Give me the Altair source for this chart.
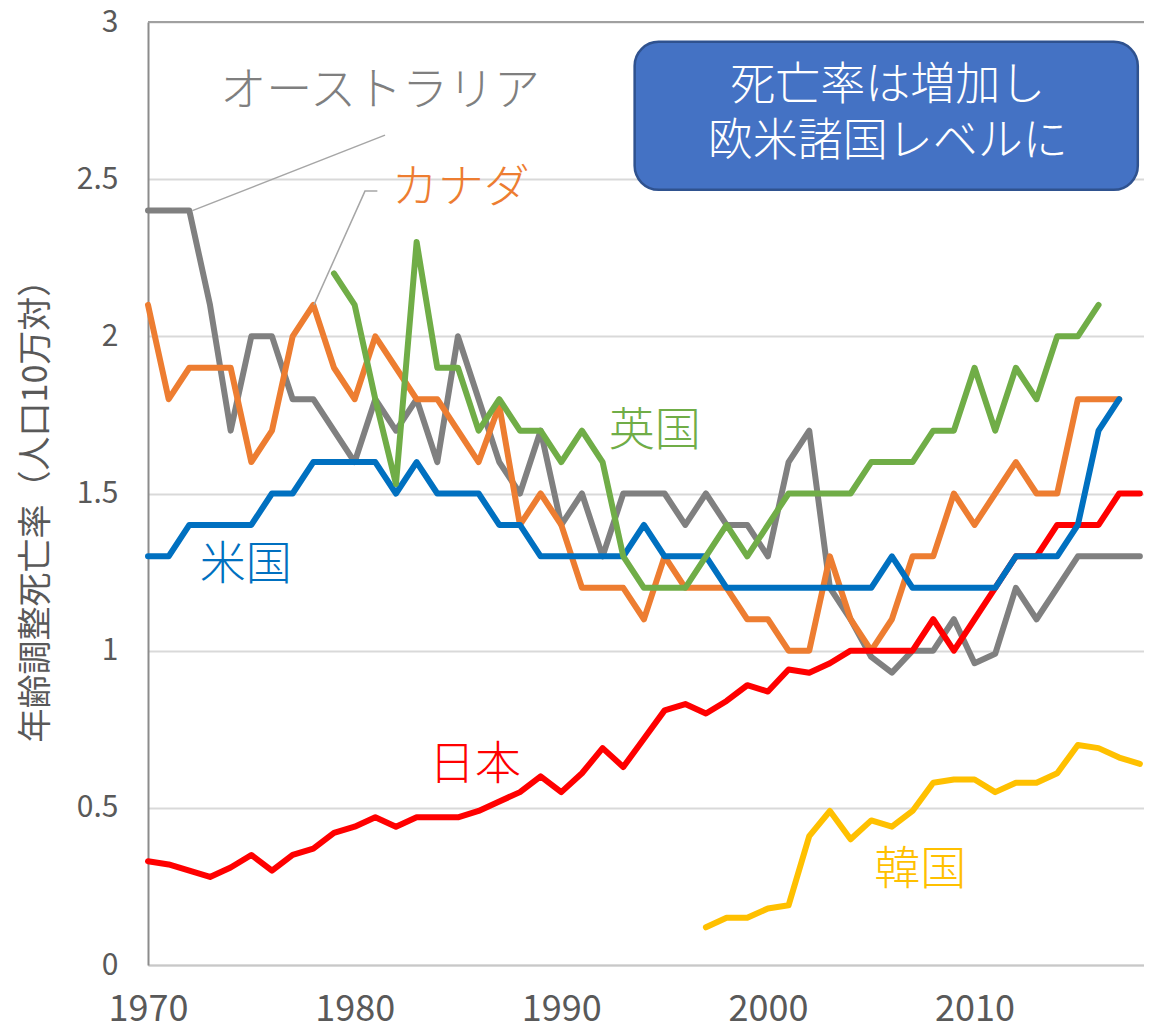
import altair as alt
import pandas as pd

FONT = "Noto Sans CJK JP"

# ---- data ----
australia_start = 1970
australia = [2.4, 2.4, 2.4, 2.1, 1.7, 2.0, 2.0, 1.8, 1.8, 1.7,
             1.6, 1.8, 1.7, 1.8, 1.6, 2.0, 1.8, 1.6, 1.5, 1.7,
             1.4, 1.5, 1.3, 1.5, 1.5, 1.5, 1.4, 1.5, 1.4, 1.4,
             1.3, 1.6, 1.7, 1.2, 1.1, 0.98, 0.93, 1.0, 1.0, 1.1,
             0.96, 0.99, 1.2, 1.1, 1.2, 1.3, 1.3, 1.3, 1.3]

canada_start = 1970
canada = [2.1, 1.8, 1.9, 1.9, 1.9, 1.6, 1.7, 2.0, 2.1, 1.9,
          1.8, 2.0, 1.9, 1.8, 1.8, 1.7, 1.6, 1.78, 1.4, 1.5,
          1.4, 1.2, 1.2, 1.2, 1.1, 1.3, 1.2, 1.2, 1.2, 1.1,
          1.1, 1.0, 1.0, 1.3, 1.1, 1.0, 1.1, 1.3, 1.3, 1.5,
          1.4, 1.5, 1.6, 1.5, 1.5, 1.8, 1.8, 1.8]

japan_start = 1970
japan = [0.33, 0.32, 0.30, 0.28, 0.31, 0.35, 0.30, 0.35, 0.37, 0.42,
         0.44, 0.47, 0.44, 0.47, 0.47, 0.47, 0.49, 0.52, 0.55, 0.60,
         0.55, 0.61, 0.69, 0.63, 0.72, 0.81, 0.83, 0.80, 0.84, 0.89,
         0.87, 0.94, 0.93, 0.96, 1.0, 1.0, 1.0, 1.0, 1.1, 1.0,
         1.1, 1.2, 1.3, 1.3, 1.4, 1.4, 1.4, 1.5, 1.5]

usa_start = 1970
usa = [1.3, 1.3, 1.4, 1.4, 1.4, 1.4, 1.5, 1.5, 1.6, 1.6,
       1.6, 1.6, 1.5, 1.6, 1.5, 1.5, 1.5, 1.4, 1.4, 1.3,
       1.3, 1.3, 1.3, 1.3, 1.4, 1.3, 1.3, 1.3, 1.2, 1.2,
       1.2, 1.2, 1.2, 1.2, 1.2, 1.2, 1.3, 1.2, 1.2, 1.2,
       1.2, 1.2, 1.3, 1.3, 1.3, 1.4, 1.7, 1.8]

uk_start = 1979
uk = [2.2,
      2.1, 1.8, 1.53, 2.3, 1.9, 1.9, 1.7, 1.8, 1.7, 1.7,
      1.6, 1.7, 1.6, 1.3, 1.2, 1.2, 1.2, 1.3, 1.4, 1.3,
      1.4, 1.5, 1.5, 1.5, 1.5, 1.6, 1.6, 1.6, 1.7, 1.7,
      1.9, 1.7, 1.9, 1.8, 2.0, 2.0, 2.1]

korea_start = 1997
korea = [0.12, 0.15, 0.15,
         0.18, 0.19, 0.41, 0.49, 0.40, 0.46, 0.44, 0.49, 0.58, 0.59,
         0.59, 0.55, 0.58, 0.58, 0.61, 0.70, 0.69, 0.66, 0.64]

series_names = ["オーストラリア", "カナダ", "日本", "米国", "英国", "韓国"]
series_starts = [australia_start, canada_start, japan_start, usa_start, uk_start, korea_start]
series_values = [australia, canada, japan, usa, uk, korea]
series_colors = ["#808080", "#ED7D31", "#FF0000", "#0070C0", "#70AD47", "#FFC000"]

x_ticks = [1970, 1980, 1990, 2000, 2010]
y_ticks = [0, 0.5, 1, 1.5, 2, 2.5, 3]
y_title = "年齢調整死亡率（人口10万対）"

# annotation labels (text, x, y, colour)
label_text = ["オーストラリア", "カナダ", "英国", "米国", "日本", "韓国"]
label_x = [1973.5, 1981.8, 1992.3, 1972.5, 1983.6, 2005.15]
label_y = [2.78, 2.472, 1.70, 1.273, 0.636, 0.302]
label_color = ["#7F7F7F", "#ED7D31", "#70AD47", "#0070C0", "#FF0000", "#FFC000"]

# leader lines (id, x, y)
leader_id = ["aus", "aus", "can", "can", "can"]
leader_x = [1972.15, 1981.47, 1978.03, 1980.5, 1981.1]
leader_y = [2.40, 2.64, 2.10, 2.462, 2.462]

box_text = "死亡率は増加し\n欧米諸国レベルに"

# ---- tables ----
rows = []
for name, start, vals in zip(series_names, series_starts, series_values):
    for i, v in enumerate(vals):
        rows.append({"country": name, "year": start + i, "value": v})
df = pd.DataFrame(rows)

labels_df = pd.DataFrame({"text": label_text, "x": label_x, "y": label_y, "c": label_color})
leader_df = pd.DataFrame({"id": leader_id, "x": leader_x, "y": leader_y,
                          "o": list(range(len(leader_id)))})
box_df = pd.DataFrame({"x": [1993.55], "x2": [2017.9], "y": [2.937], "y2": [2.466]})
box_text_df = pd.DataFrame({"text": [box_text], "x": [2005.8], "y": [2.795]})

x_scale = alt.Scale(domain=[1970, 2018.2], nice=False, zero=False)
y_scale = alt.Scale(domain=[0, 3], nice=False, zero=True)

x_axis = alt.Axis(values=x_ticks, format="d", title=None, grid=False, ticks=False,
                  labelFontSize=36, labelPadding=27, labelColor="#595959", labelFont=FONT,
                  labelFlush=False, labelOverlap=False, labelBound=False,
                  domainColor="#c8c8c8", domainWidth=2)
y_axis = alt.Axis(values=y_ticks, format="~g", title=y_title, grid=True,
                  gridColor="#d9d9d9", gridWidth=2, ticks=False,
                  labelFontSize=30, labelPadding=30, labelColor="#595959", labelFont=FONT,
                  domainColor="#8c8c8c", domainWidth=2,
                  titleFont=FONT, titleFontSize=34, titleFontWeight="normal",
                  titleColor="#595959", titleAngle=270, titleX=-112, titleY=480,
                  titleAlign="center", titleBaseline="middle")

X = alt.X("x:Q", scale=x_scale, axis=x_axis)
Y = alt.Y("y:Q", scale=y_scale, axis=y_axis)

layers = []

top_rule = alt.Chart(pd.DataFrame({"y": [3]})).mark_rule(color="#a0a0a0", strokeWidth=2).encode(
    y=Y
)
layers.append(top_rule)

for name, color in zip(series_names, series_colors):
    layers.append(
        alt.Chart(df).transform_filter(alt.datum.country == name)
        .mark_line(color=color, strokeWidth=6, strokeCap="round", strokeJoin="round")
        .encode(x=alt.X("year:Q", scale=x_scale, axis=x_axis),
                y=alt.Y("value:Q", scale=y_scale, axis=y_axis))
    )

leaders = alt.Chart(leader_df).mark_line(color="#a6a6a6", strokeWidth=1.5).encode(
    x=X, y=Y, detail="id:N", order="o:Q",
)
layers.append(leaders)

labels = alt.Chart(labels_df).mark_text(font=FONT, fontSize=46, align="left",
                                        baseline="middle", fontWeight=300).encode(
    x=X, y=Y,
    text="text:N",
    color=alt.Color("c:N", scale=None),
)
layers.append(labels)

box = alt.Chart(box_df).mark_rect(fill="#4472C4", stroke="#2F528F", strokeWidth=2.5,
                                  cornerRadius=24).encode(
    x=X, x2="x2:Q", y=Y, y2="y2:Q",
)
layers.append(box)

box_labels = alt.Chart(box_text_df).mark_text(font=FONT, fontSize=45, color="white",
                                              align="center", baseline="middle",
                                              lineBreak="\n", lineHeight=56,
                                              fontWeight=300).encode(
    x=X, y=Y, text="text:N",
)
layers.append(box_labels)

chart = alt.layer(*layers).properties(
    width=996, height=943,
    autosize=alt.AutoSizeParams(type="none"),
    padding={"left": 140, "top": 14, "right": 0, "bottom": 67},
).configure_view(stroke=None).configure(background="white")

chart.save("out.html", embed_options={"renderer": "svg", "actions": False})
